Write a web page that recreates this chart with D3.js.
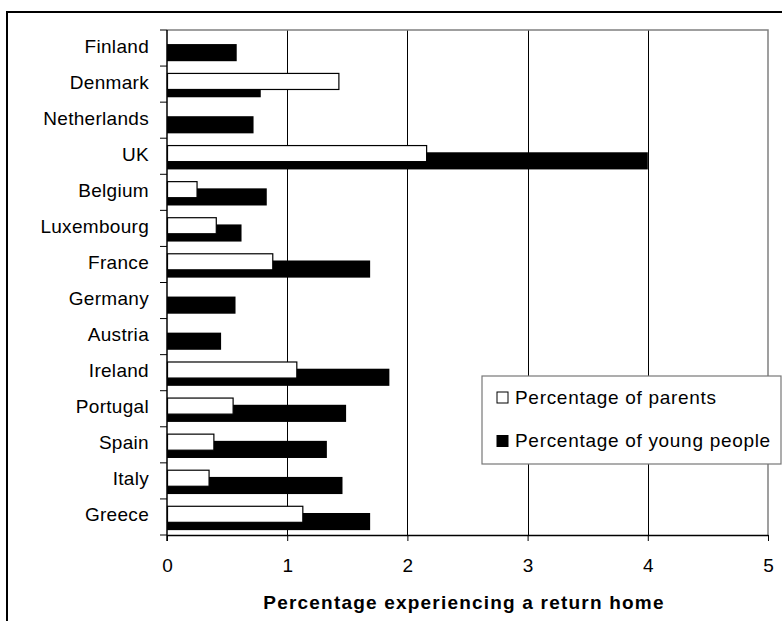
<!DOCTYPE html>
<html>
<head>
<meta charset="utf-8">
<script src="https://cdn.jsdelivr.net/npm/d3@7"></script>
<style>
  html, body { margin: 0; padding: 0; background: #fff; }
  svg { display: block; }
  text { font-family: "Liberation Sans", Arial, sans-serif; fill: #000; }
</style>
</head>
<body>
<svg id="chart" width="782" height="621"></svg>
<script>
const categories = ["Finland","Denmark","Netherlands","UK","Belgium","Luxembourg","France","Germany","Austria","Ireland","Portugal","Spain","Italy","Greece"];
const parents = [null, 1.43, null, 2.16, 0.25, 0.41, 0.88, null, null, 1.08, 0.55, 0.39, 0.35, 1.13];
const youngPeople = [0.58, 0.78, 0.72, 4.0, 0.83, 0.62, 1.69, 0.57, 0.45, 1.85, 1.49, 1.33, 1.46, 1.69];
const xTicks = [0, 1, 2, 3, 4, 5];
const seriesNames = ["Percentage of parents", "Percentage of young people"];
const xTitle = "Percentage experiencing a return home";

(function () {
const svg = d3.select("#chart");

// outer frame
svg.append("rect").attr("x", 7).attr("y", 12).attr("width", 820).attr("height", 700)
  .attr("fill", "none").attr("stroke", "#000").attr("stroke-width", 2);

const pL = 167, pR = 768, pT = 30, pB = 535;
const x = d3.scaleLinear().domain([0, 5]).range([pL, pR]);
const y = d3.scaleBand().domain(categories).range([pT, pB]).paddingInner(0).paddingOuter(0);
const bw = y.bandwidth();

// gridlines
svg.append("g").selectAll("line").data(xTicks.filter(d => d > 0 && d < 5)).join("line")
  .attr("x1", d => Math.round(x(d)) + 0.5).attr("x2", d => Math.round(x(d)) + 0.5).attr("y1", pT).attr("y2", pB)
  .attr("stroke", "#000").attr("stroke-width", 1);

// plot border top/right (grey)
svg.append("path")
  .attr("d", `M${x(0)},${pT}H${x(5)}V${pB}`)
  .attr("fill", "none").attr("stroke", "#808080").attr("stroke-width", 1.5);

// bars
const data = categories.map((c, i) => ({ c, p: parents[i], yp: youngPeople[i] }));
svg.append("g").selectAll("rect").data(data).join("rect")
  .attr("x", x(0)).attr("y", d => y(d.c) + bw * 0.39)
  .attr("width", d => x(d.yp) - x(0)).attr("height", bw * 0.475)
  .attr("fill", "#000");
svg.append("g").selectAll("rect").data(data.filter(d => d.p != null)).join("rect")
  .attr("x", x(0) + 0.5).attr("y", d => y(d.c) + bw * 0.19 + 0.5)
  .attr("width", d => x(d.p) - x(0) - 0.5).attr("height", bw * 0.445)
  .attr("fill", "#fff").attr("stroke", "#000").attr("stroke-width", 1.2);

// x axis
const xAxis = svg.append("g").attr("transform", `translate(0,${pB})`)
  .call(d3.axisBottom(x).tickValues(xTicks).tickFormat(d3.format("d")).tickSize(6).tickSizeOuter(0));
xAxis.select(".domain").attr("stroke", "#000").attr("stroke-width", 1.5);
xAxis.selectAll(".tick line").attr("stroke", "#000");
xAxis.selectAll(".tick text").attr("font-size", 19).attr("font-family", "Liberation Sans, Arial, sans-serif")
  .attr("dy", null).attr("y", 37).attr("fill", "#000");

// y axis: line + boundary ticks
svg.append("line").attr("x1", x(0)).attr("x2", x(0)).attr("y1", pT).attr("y2", pB + 6)
  .attr("stroke", "#000").attr("stroke-width", 1.5);
const bounds = categories.map(c => y(c)).concat([pB]);
svg.append("g").selectAll("line").data(bounds).join("line")
  .attr("x1", x(0) - 7).attr("x2", x(0)).attr("y1", d => d).attr("y2", d => d)
  .attr("stroke", "#000").attr("stroke-width", 1);

// category labels
svg.append("g").selectAll("text").data(categories).join("text")
  .attr("x", 149).attr("y", d => y(d) + bw / 2 + 4.5)
  .attr("text-anchor", "end").attr("font-size", 19).attr("letter-spacing", 0.3)
  .text(d => d);

// x title
svg.append("text").attr("x", 464).attr("y", 609).attr("text-anchor", "middle")
  .attr("font-size", 19).attr("font-weight", "bold").attr("letter-spacing", 1.2)
  .text(xTitle);

// legend
const lg = svg.append("g");
lg.append("rect").attr("x", 482).attr("y", 376).attr("width", 299).attr("height", 88)
  .attr("fill", "#fff").attr("stroke", "#777").attr("stroke-width", 1.2);
const legendItems = [
  { name: seriesNames[0], fill: "#fff", ty: 403.5 },
  { name: seriesNames[1], fill: "#000", ty: 447 }
];
legendItems.forEach(it => {
  lg.append("rect").attr("x", 497).attr("y", it.ty - 11.5).attr("width", 11).attr("height", 11)
    .attr("fill", it.fill).attr("stroke", "#000").attr("stroke-width", 1);
  lg.append("text").attr("x", 515).attr("y", it.ty).attr("font-size", 19).attr("letter-spacing", 0.7)
    .text(it.name);
});
})();
</script>
</body>
</html>
